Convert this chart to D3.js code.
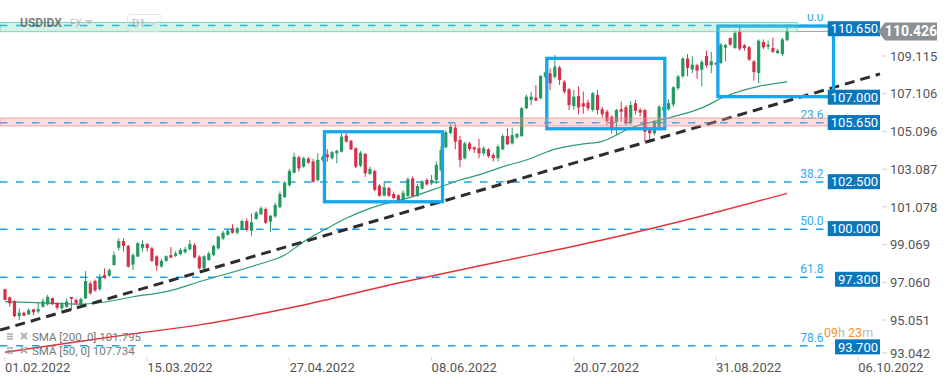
<!DOCTYPE html>
<html lang="en">
<head>
<meta charset="UTF-8">
<title>USDIDX D1</title>
<script src="https://cdn.jsdelivr.net/npm/d3@7"></script>
<style>
  body { margin: 0; background: #fff; }
  svg { display: block; font-family: Roboto, "Open Sans", sans-serif; }
</style>
</head>
<body>
<div id="chart"></div>
<script>
// ---- daily candles (index 0 = 01.02.2022) ----
var opens = [
  96.69, 96.26, 96.06, 95.26, 95.44, 95.35, 95.62, 95.50, 95.76, 95.89,
  96.22, 95.95, 95.67, 95.76, 96.27, 96.12, 95.89, 96.20, 97.00, 97.13,
  96.70, 97.45, 97.41, 97.98, 98.90, 99.26, 99.00, 98.00, 98.43, 98.90,
  99.10, 98.87, 98.44, 97.90, 98.20, 98.51, 98.47, 98.55, 98.66, 98.82,
  99.04, 98.42, 97.80, 98.25, 98.51, 98.87, 99.39, 99.60, 99.94, 99.70,
  99.88, 100.33, 99.80, 100.43, 100.69, 100.96, 100.29, 100.57, 101.06, 101.60,
  102.24, 102.90, 103.72, 103.22, 103.64, 103.50, 102.51, 103.60, 103.88, 103.67,
  103.93, 104.02, 104.87, 104.60, 104.20, 103.27, 103.90, 102.83, 102.99, 102.21,
  101.67, 102.08, 101.76, 101.69, 101.41, 101.66, 102.60, 101.66, 102.05, 102.51,
  102.33, 102.51, 103.04, 104.25, 105.01, 105.30, 104.64, 103.67, 104.46, 104.25,
  104.20, 103.93, 104.14, 103.84, 103.67, 104.14, 104.85, 104.46, 104.79, 104.85,
  106.33, 106.77, 106.90, 106.87, 108.00, 108.19, 108.00, 108.50, 107.74, 107.34,
  106.45, 106.98, 106.60, 106.63, 106.24, 107.04, 106.28, 106.15, 105.88, 105.60,
  106.28, 106.38, 105.56, 106.60, 106.24, 106.24, 105.17, 105.00, 105.35, 106.20,
  106.28, 106.53, 107.40, 108.03, 108.98, 108.40, 108.62, 108.38, 109.11, 108.63,
  108.74, 108.74, 109.56, 110.07, 109.54, 110.40, 109.69, 109.58, 108.83, 108.21,
  109.86, 109.62, 109.54, 109.27, 109.22, 109.96
];
var highs = [
  96.72, 96.30, 96.10, 95.67, 95.50, 95.67, 95.65, 96.00, 96.20, 96.40,
  96.25, 96.00, 96.00, 96.20, 96.28, 96.20, 96.25, 97.66, 97.10, 97.20,
  97.50, 97.80, 97.80, 98.70, 99.40, 99.40, 99.05, 98.60, 99.20, 99.30,
  99.15, 98.95, 98.50, 98.30, 98.50, 98.94, 98.72, 98.90, 98.95, 99.31,
  99.15, 98.50, 98.50, 98.70, 99.06, 99.55, 99.80, 99.90, 100.15, 100.00,
  100.40, 100.47, 100.73, 100.85, 101.10, 101.05, 100.62, 101.30, 101.90, 102.45,
  103.10, 103.96, 103.80, 103.75, 103.75, 103.64, 103.93, 103.80, 104.15, 104.05,
  104.12, 104.98, 105.00, 104.65, 104.25, 104.05, 103.95, 103.22, 103.05, 102.30,
  102.42, 102.15, 101.89, 101.75, 101.95, 102.65, 102.70, 102.30, 102.50, 102.60,
  102.78, 103.50, 104.30, 105.15, 105.50, 105.50, 104.85, 104.55, 104.55, 104.30,
  104.70, 104.30, 104.20, 103.95, 104.40, 104.95, 105.26, 105.30, 105.00, 106.40,
  107.05, 107.20, 107.57, 108.10, 108.30, 108.46, 109.16, 108.60, 107.84, 107.40,
  107.31, 107.50, 107.22, 106.80, 107.20, 107.31, 106.40, 106.25, 105.95, 106.30,
  106.68, 106.50, 106.70, 106.78, 106.35, 106.30, 105.30, 105.70, 106.50, 106.60,
  106.80, 107.50, 108.10, 109.05, 109.22, 109.10, 108.70, 108.90, 109.40, 109.33,
  108.80, 109.80, 109.76, 110.10, 110.45, 110.65, 109.75, 109.65, 108.90, 110.00,
  110.00, 109.93, 110.09, 109.50, 110.09, 110.65
];
var lows = [
  96.10, 95.76, 95.19, 95.05, 95.25, 95.30, 95.30, 95.40, 95.70, 95.80,
  95.85, 95.60, 95.60, 95.70, 95.58, 95.85, 95.85, 96.17, 96.40, 96.55,
  96.60, 97.25, 97.35, 97.95, 98.75, 98.70, 97.83, 97.71, 98.40, 98.70,
  98.70, 98.15, 97.68, 97.85, 98.15, 98.35, 98.40, 98.50, 98.60, 98.75,
  98.33, 97.75, 97.70, 98.20, 98.45, 98.80, 99.30, 99.55, 99.65, 99.60,
  99.85, 99.76, 99.54, 100.40, 100.65, 100.17, 99.76, 100.50, 101.00, 101.55,
  102.15, 102.85, 102.95, 103.16, 103.38, 102.36, 102.42, 103.50, 103.48, 103.60,
  103.40, 103.97, 104.50, 104.10, 103.15, 103.20, 102.68, 102.78, 101.90, 101.62,
  101.65, 101.60, 101.48, 101.30, 101.35, 101.60, 101.60, 101.60, 102.00, 102.20,
  102.24, 102.30, 102.95, 104.20, 104.95, 104.15, 103.19, 103.60, 104.05, 103.95,
  103.67, 103.80, 103.70, 103.50, 103.50, 104.10, 104.37, 104.40, 104.70, 104.80,
  106.30, 106.50, 106.70, 106.80, 107.90, 107.30, 107.90, 107.57, 107.10, 106.24,
  106.24, 106.00, 106.03, 106.20, 106.15, 106.00, 105.85, 105.44, 104.98, 104.90,
  105.60, 105.40, 105.45, 106.00, 105.90, 104.55, 104.55, 104.90, 105.30, 106.00,
  106.20, 106.40, 107.30, 107.95, 108.03, 108.20, 107.90, 107.50, 108.50, 108.20,
  108.60, 108.70, 108.83, 109.65, 109.50, 109.40, 109.40, 108.85, 107.80, 107.68,
  109.48, 109.45, 109.28, 109.22, 109.10, 109.90
];
var closes = [
  96.12, 95.94, 95.26, 95.44, 95.28, 95.58, 95.46, 95.63, 96.05, 96.28,
  95.89, 95.70, 95.89, 96.03, 96.17, 95.94, 96.17, 97.13, 96.47, 96.63,
  97.34, 97.28, 97.71, 98.51, 99.26, 99.00, 97.89, 98.51, 99.14, 99.10,
  98.88, 98.20, 97.95, 98.20, 98.45, 98.37, 98.60, 98.78, 98.83, 99.10,
  98.39, 97.80, 98.45, 98.60, 99.00, 99.49, 99.70, 99.80, 99.70, 99.94,
  100.33, 99.85, 100.26, 100.77, 101.00, 100.23, 100.61, 101.18, 101.76, 102.37,
  102.99, 103.75, 103.13, 103.67, 103.43, 102.42, 103.58, 103.72, 103.72, 103.99,
  104.07, 104.82, 104.55, 104.14, 103.22, 103.96, 102.87, 103.10, 101.98, 101.67,
  102.12, 101.67, 101.55, 101.35, 101.83, 102.55, 101.66, 102.19, 102.40, 102.28,
  102.51, 103.31, 104.11, 105.05, 105.35, 104.55, 103.58, 104.46, 104.16, 104.14,
  103.93, 104.20, 103.78, 103.67, 104.29, 104.85, 104.41, 104.90, 104.96, 106.33,
  106.95, 106.95, 106.74, 108.05, 108.25, 107.66, 108.55, 107.84, 107.21, 106.50,
  106.95, 106.37, 106.42, 106.33, 107.13, 106.24, 106.01, 105.65, 105.26, 106.24,
  106.15, 105.56, 106.50, 106.20, 106.10, 105.08, 105.00, 105.62, 106.42, 106.40,
  106.60, 107.45, 108.03, 108.98, 108.48, 108.65, 108.33, 108.80, 108.62, 108.84,
  108.67, 109.72, 109.70, 109.72, 110.34, 109.50, 109.54, 108.92, 108.26, 109.93,
  109.58, 109.72, 109.33, 109.40, 110.00, 110.43
];

// moving averages (read at a few candles)
var sma50Idx  = [0, 8, 16, 20, 27, 34, 41, 53, 59, 63, 68, 72, 77, 86, 92, 96, 100, 104, 111, 116, 122, 126, 132, 140, 147, 152, 159, 165];
var sma50Vals = [96.03, 95.96, 95.90, 95.97, 96.29, 96.56, 97.09, 97.98, 98.51, 99.22, 99.94, 100.47, 101.00, 101.62, 102.15, 102.51, 102.78, 103.13, 103.67, 104.15, 104.43, 104.57, 105.28, 105.81, 106.35, 106.97, 107.50, 107.74];
var sma200Idx  = [0, 13, 27, 41, 62, 83, 104, 126, 147, 165];
var sma200Vals = [93.33, 93.81, 94.31, 94.79, 95.80, 97.02, 98.14, 99.31, 100.59, 101.80];

// fibonacci retracement
var fibLabels = ["0.0", "23.6", "38.2", "50.0", "61.8", "78.6"];
var fibPrices = [110.74, 105.56, 102.40, 99.88, 97.33, 93.68];

// price tags on the right
var levelLabels = ["110.650", "107.000", "105.650", "102.500", "100.000", "97.300", "93.700"];
var levelPrices = [110.65, 107.0, 105.65, 102.5, 100.0, 97.3, 93.7];
var lastPrice = 110.426;

// axes
var yTicks = [93.042, 95.051, 97.060, 99.069, 101.078, 103.087, 105.096, 107.106, 109.115];
var dateIdx = [0, 30, 60, 90, 120, 150, 180];
var dateLabels = ["01.02.2022", "15.03.2022", "27.04.2022", "08.06.2022", "20.07.2022", "31.08.2022", "06.10.2022"];

// drawings
var trendIdx = [-1.05, 184.6];
var trendVals = [94.51, 108.16];
var boxStart = [67.4, 114.3, 150.4];
var boxEnd = [92.3, 139.2, 174.8];
var boxTop = [105.08, 108.99, 110.71];
var boxBottom = [101.35, 105.24, 106.95];
var greenZone = [110.41, 110.90];
var pinkZone = [105.39, 105.81];

var smaLegend = ["SMA [200, 0] 101.795", "SMA [50, 0] 107.734"];

// ---- layout ----
var w = 949, h = 384;
var plotRight = 881, plotTop = 14, plotBottom = 358;

var svg = d3.select("#chart").append("svg")
  .attr("width", w)
  .attr("height", h);

svg.append("rect").attr("width", w).attr("height", h).attr("fill", "#fff");

var x = d3.scaleLinear().domain([0, 180]).range([5, 858.2]);
var y = d3.scaleLinear().domain([95.051, 109.115]).range([320, 56]);

svg.append("clipPath").attr("id", "plot-clip")
  .append("rect")
  .attr("x", 0).attr("y", plotTop)
  .attr("width", plotRight).attr("height", plotBottom - plotTop);

var plot = svg.append("g").attr("clip-path", "url(#plot-clip)");

// fib lines
var fibEnd = 173.5;
plot.selectAll(".fib")
  .data(fibPrices)
  .enter()
  .append("line")
  .attr("class", "fib")
  .attr("x1", 0)
  .attr("x2", x(fibEnd))
  .attr("y1", function(d) { return y(d); })
  .attr("y2", function(d) { return y(d); })
  .attr("stroke", "#1ba3ee")
  .attr("stroke-width", 1.5)
  .attr("stroke-dasharray", "7.5,8.5");

plot.selectAll(".fib-label")
  .data(fibLabels)
  .enter()
  .append("text")
  .attr("class", "fib-label")
  .attr("x", x(172.7))
  .attr("y", function(d, i) { return y(fibPrices[i]) - 4; })
  .attr("text-anchor", "end")
  .attr("font-size", "12px")
  .attr("fill", "#33a9ee")
  .text(function(d) { return d; });

// moving averages
var sma200 = sma200Idx.map(function(d, i) { return [d, sma200Vals[i]]; });
var sma50 = sma50Idx.map(function(d, i) { return [d, sma50Vals[i]]; });
var line = d3.line()
  .x(function(d) { return x(d[0]); })
  .y(function(d) { return y(d[1]); })
  .curve(d3.curveMonotoneX);

plot.append("path")
  .attr("d", line(sma200))
  .attr("fill", "none")
  .attr("stroke", "#e2333a")
  .attr("stroke-width", 1.4);

plot.append("path")
  .attr("d", line(sma50))
  .attr("fill", "none")
  .attr("stroke", "#2c9d72")
  .attr("stroke-width", 1.2);

// candles
var candles = opens.map(function(o, i) {
  return { i: i, o: o, h: highs[i], l: lows[i], c: closes[i] };
});
var up = "#249a63", down = "#d7304a";

var cg = plot.selectAll(".candle")
  .data(candles)
  .enter()
  .append("g")
  .attr("class", "candle");

cg.append("line")
  .attr("x1", function(d) { return x(d.i); })
  .attr("x2", function(d) { return x(d.i); })
  .attr("y1", function(d) { return y(d.h); })
  .attr("y2", function(d) { return y(d.l); })
  .attr("stroke", function(d) { return d.c >= d.o ? up : down; })
  .attr("stroke-width", 1);

cg.append("rect")
  .attr("x", function(d) { return x(d.i) - 1.6; })
  .attr("width", 3.2)
  .attr("y", function(d) { return y(Math.max(d.o, d.c)); })
  .attr("height", function(d) { return Math.max(1, Math.abs(y(d.o) - y(d.c))); })
  .attr("fill", function(d) { return d.c >= d.o ? up : down; });

// trend line
plot.append("line")
  .attr("x1", x(trendIdx[0])).attr("y1", y(trendVals[0]))
  .attr("x2", x(trendIdx[1])).attr("y2", y(trendVals[1]))
  .attr("stroke", "#2d2d2d")
  .attr("stroke-width", 3)
  .attr("stroke-dasharray", "10,6");

// rectangles
plot.selectAll(".box")
  .data(boxStart)
  .enter()
  .append("rect")
  .attr("class", "box")
  .attr("x", function(d) { return x(d); })
  .attr("y", function(d, i) { return y(boxTop[i]); })
  .attr("width", function(d, i) { return x(boxEnd[i]) - x(d); })
  .attr("height", function(d, i) { return y(boxBottom[i]) - y(boxTop[i]); })
  .attr("fill", "none")
  .attr("stroke", "#16a6ee")
  .attr("stroke-width", 3.3);

// last price line
plot.append("line")
  .attr("x1", x(167.1)).attr("x2", x(174.7))
  .attr("y1", y(lastPrice)).attr("y2", y(lastPrice))
  .attr("stroke", "#9aa0a6")
  .attr("stroke-width", 1);

// zones (semi transparent, on top)
plot.append("rect")
  .attr("x", 0)
  .attr("width", x(167.1))
  .attr("y", y(greenZone[1]))
  .attr("height", y(greenZone[0]) - y(greenZone[1]))
  .attr("fill", "rgba(110, 215, 175, 0.3)")
  .attr("stroke", "rgba(80, 200, 155, 0.7)")
  .attr("stroke-width", 1);

plot.append("rect")
  .attr("x", 0)
  .attr("width", x(174.5))
  .attr("y", y(pinkZone[1]))
  .attr("height", y(pinkZone[0]) - y(pinkZone[1]))
  .attr("fill", "rgba(245, 150, 160, 0.32)")
  .attr("stroke", "rgba(240, 130, 140, 0.7)")
  .attr("stroke-width", 1);

// ---- right axis ----
var axisG = svg.append("g");
axisG.selectAll(".ytick")
  .data(yTicks)
  .enter()
  .append("line")
  .attr("x1", 882).attr("x2", 887)
  .attr("y1", function(d) { return Math.min(y(d), 353); })
  .attr("y2", function(d) { return Math.min(y(d), 353); })
  .attr("stroke", "#d0d0d0");

axisG.selectAll(".ylabel")
  .data(yTicks)
  .enter()
  .append("text")
  .attr("x", 890)
  .attr("y", function(d) { return Math.min(y(d), 353); })
  .attr("dy", "0.36em")
  .attr("font-size", "13px")
  .attr("fill", "#555")
  .text(function(d) { return d.toFixed(3); });

// price tags
var tags = svg.selectAll(".tag")
  .data(levelPrices)
  .enter()
  .append("g")
  .attr("class", "tag");

tags.append("rect")
  .attr("fill", "#0a77bd");

tags.append("text")
  .attr("x", 878)
  .attr("y", function(d) { return y(d) + 1.5; })
  .attr("dy", "0.36em")
  .attr("text-anchor", "end")
  .attr("font-size", "13px")
  .attr("fill", "#fff")
  .text(function(d, i) { return levelLabels[i]; });

tags.each(function(d) {
  var g = d3.select(this);
  var tw = g.select("text").node().getComputedTextLength();
  g.select("rect")
    .attr("x", 880 - tw - 5)
    .attr("width", tw + 5)
    .attr("y", y(d) + 1.5 - 7.5)
    .attr("height", 15);
});

// last price tag
var yp = y(lastPrice);
svg.append("path")
  .attr("d", "M878," + yp + "L885," + (yp - 9) + "L937," + (yp - 9) + "L937," + (yp + 9) + "L885," + (yp + 9) + "Z")
  .attr("fill", "#8b9196");
svg.append("text")
  .attr("x", 911)
  .attr("y", yp)
  .attr("dy", "0.36em")
  .attr("text-anchor", "middle")
  .attr("font-size", "14px")
  .attr("font-weight", "bold")
  .attr("fill", "#fff")
  .text(lastPrice.toFixed(3));

// countdown
var cd = svg.append("text")
  .attr("x", 824)
  .attr("y", 337)
  .attr("font-size", "12.5px");
cd.append("tspan").attr("fill", "#f7931e").text("09");
cd.append("tspan").attr("fill", "#b9b9b9").text("h ");
cd.append("tspan").attr("fill", "#f7931e").text("23");
cd.append("tspan").attr("fill", "#b9b9b9").text("m");

// ---- date axis ----
svg.selectAll(".xtick")
  .data(dateIdx)
  .enter()
  .append("line")
  .attr("x1", function(d) { return x(d); })
  .attr("x2", function(d) { return x(d); })
  .attr("y1", 357).attr("y2", 361)
  .attr("stroke", "#d5d5d5");

svg.selectAll(".xlabel")
  .data(dateLabels)
  .enter()
  .append("text")
  .attr("x", function(d, i) { return x(dateIdx[i]); })
  .attr("y", 372)
  .attr("font-size", "13px")
  .attr("fill", "#555")
  .text(function(d) { return d; });

// ---- header ----
var head = svg.append("g").attr("opacity", 0.75);
head.append("text").attr("x", 20).attr("y", 27)
  .attr("font-size", "12px").attr("font-weight", "bold").attr("fill", "#555")
  .text("USDIDX");
head.append("text").attr("x", 70).attr("y", 27)
  .attr("font-size", "10px").attr("fill", "#aaa")
  .text("FX");
head.append("path").attr("d", "M85,20L93,20L89,25Z").attr("fill", "#bbb");
head.append("rect").attr("x", 127.5).attr("y", 14.5).attr("width", 34).attr("height", 17).attr("rx", 3)
  .attr("fill", "none").attr("stroke", "#ddd");
head.append("text").attr("x", 132).attr("y", 27)
  .attr("font-size", "11px").attr("fill", "#999")
  .text("D1");
head.append("path").attr("d", "M149,22L156,22L152.5,26Z").attr("fill", "#ccc");

// ---- indicator legend ----
var leg = svg.selectAll(".leg")
  .data(smaLegend)
  .enter()
  .append("g")
  .attr("class", "leg")
  .attr("transform", function(d, i) { return "translate(0," + (341 + i * 14) + ")"; });

leg.append("path")
  .attr("d", "M7,-7H13M7,-4.5H13M7,-2H13")
  .attr("stroke", "#aaa").attr("stroke-width", 1.4);
leg.append("path")
  .attr("d", "M21,-8L27,-2M27,-8L21,-2")
  .attr("stroke", "#aaa").attr("stroke-width", 1.8);
leg.append("text")
  .attr("x", 32)
  .attr("font-size", "11.5px")
  .attr("fill", "#777")
  .text(function(d) { return d; });
</script>
</body>
</html>
